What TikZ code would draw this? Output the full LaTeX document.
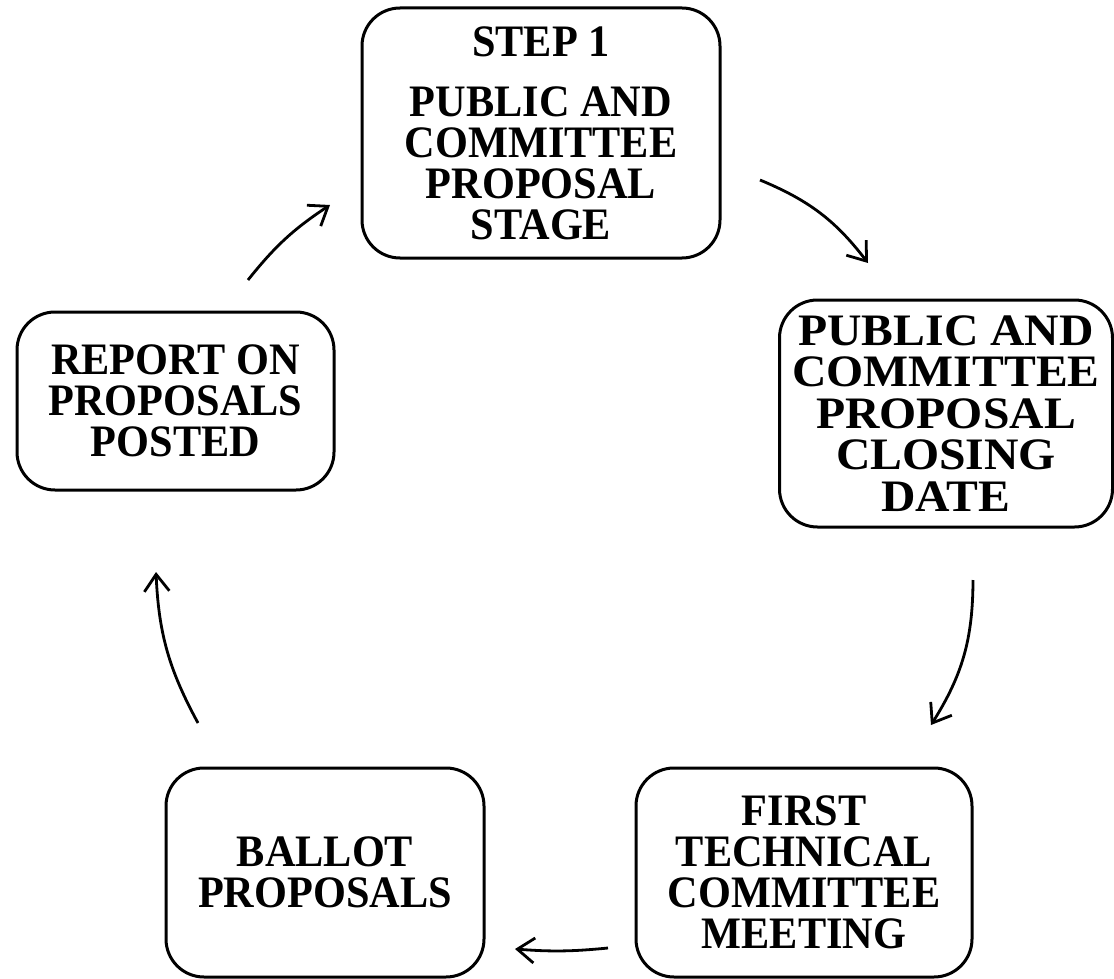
\documentclass[tikz,border=0pt]{standalone}
\usepackage{fontspec}
\setmainfont{Liberation Serif}
\newfontfamily\narrowserif[FakeStretch=0.94]{Liberation Serif}
\newfontfamily\wideserif[FakeStretch=1.06]{Liberation Serif}
\usepackage{tikz}
\usetikzlibrary{arrows.meta}
\newcommand\nodeps{STEP 1\\[19pt]PUBLIC AND\\COMMITTEE\\PROPOSAL\\STAGE}
\newcommand\nodecd{PUBLIC AND\\COMMITTEE\\PROPOSAL\\CLOSING\\DATE}
\newcommand\nodetc{FIRST\\TECHNICAL\\COMMITTEE\\MEETING}
\newcommand\nodebp{BALLOT\\PROPOSALS}
\newcommand\noderp{REPORT ON\\PROPOSALS\\POSTED}
\tikzstyle{stagebox} = [rectangle, rounded corners=38pt, draw, line width=3pt, inner sep=0pt, align=center, font=\narrowserif\bfseries\fontsize{45}{41}\selectfont]
\tikzstyle{widebox} = [stagebox, font=\wideserif\bfseries\fontsize{45}{41.5}\selectfont]
\tikzset{>={Straight Barb[length=17pt,width=25pt]}, every picture/.style={line width=2.8pt}}

\begin{document}
\begin{tikzpicture}[x=1pt, y=1pt]
\useasboundingbox (0, 0) rectangle (1114, -979);
\node[stagebox, minimum width=358pt, minimum height=250pt] (ps) at (541, -133) {\nodeps};
\node[widebox, minimum width=333pt, minimum height=227pt] (cd) at (946, -413.5) {\nodecd};
\node[stagebox, minimum width=336pt, minimum height=209pt] (tc) at (804, -872.5) {\nodetc};
\node[stagebox, minimum width=318pt, minimum height=209pt] (bp) at (325, -872.5) {\nodebp};
\node[stagebox, minimum width=317pt, minimum height=178pt] (rp) at (175.5, -401) {\noderp};
\coordinate (c1) at (760, -180);
\coordinate (c2) at (868, -263);
\coordinate (c3) at (973, -580);
\coordinate (c4) at (931, -725);
\coordinate (c5) at (608, -948);
\coordinate (c6) at (515, -949);
\coordinate (c7) at (198, -723);
\coordinate (c8) at (156, -572);
\coordinate (c9) at (248, -280);
\coordinate (c10) at (330, -205);
\draw [->] (c1) to[bend left=15] (c2);
\draw [->] (c3) to[bend left=16] (c4);
\draw [->] (c5) to[bend left=5] (c6);
\draw [->] (c7) to[bend left=13] (c8);
\draw [->] (c9) to[bend left=9] (c10);
\end{tikzpicture}
\end{document}
